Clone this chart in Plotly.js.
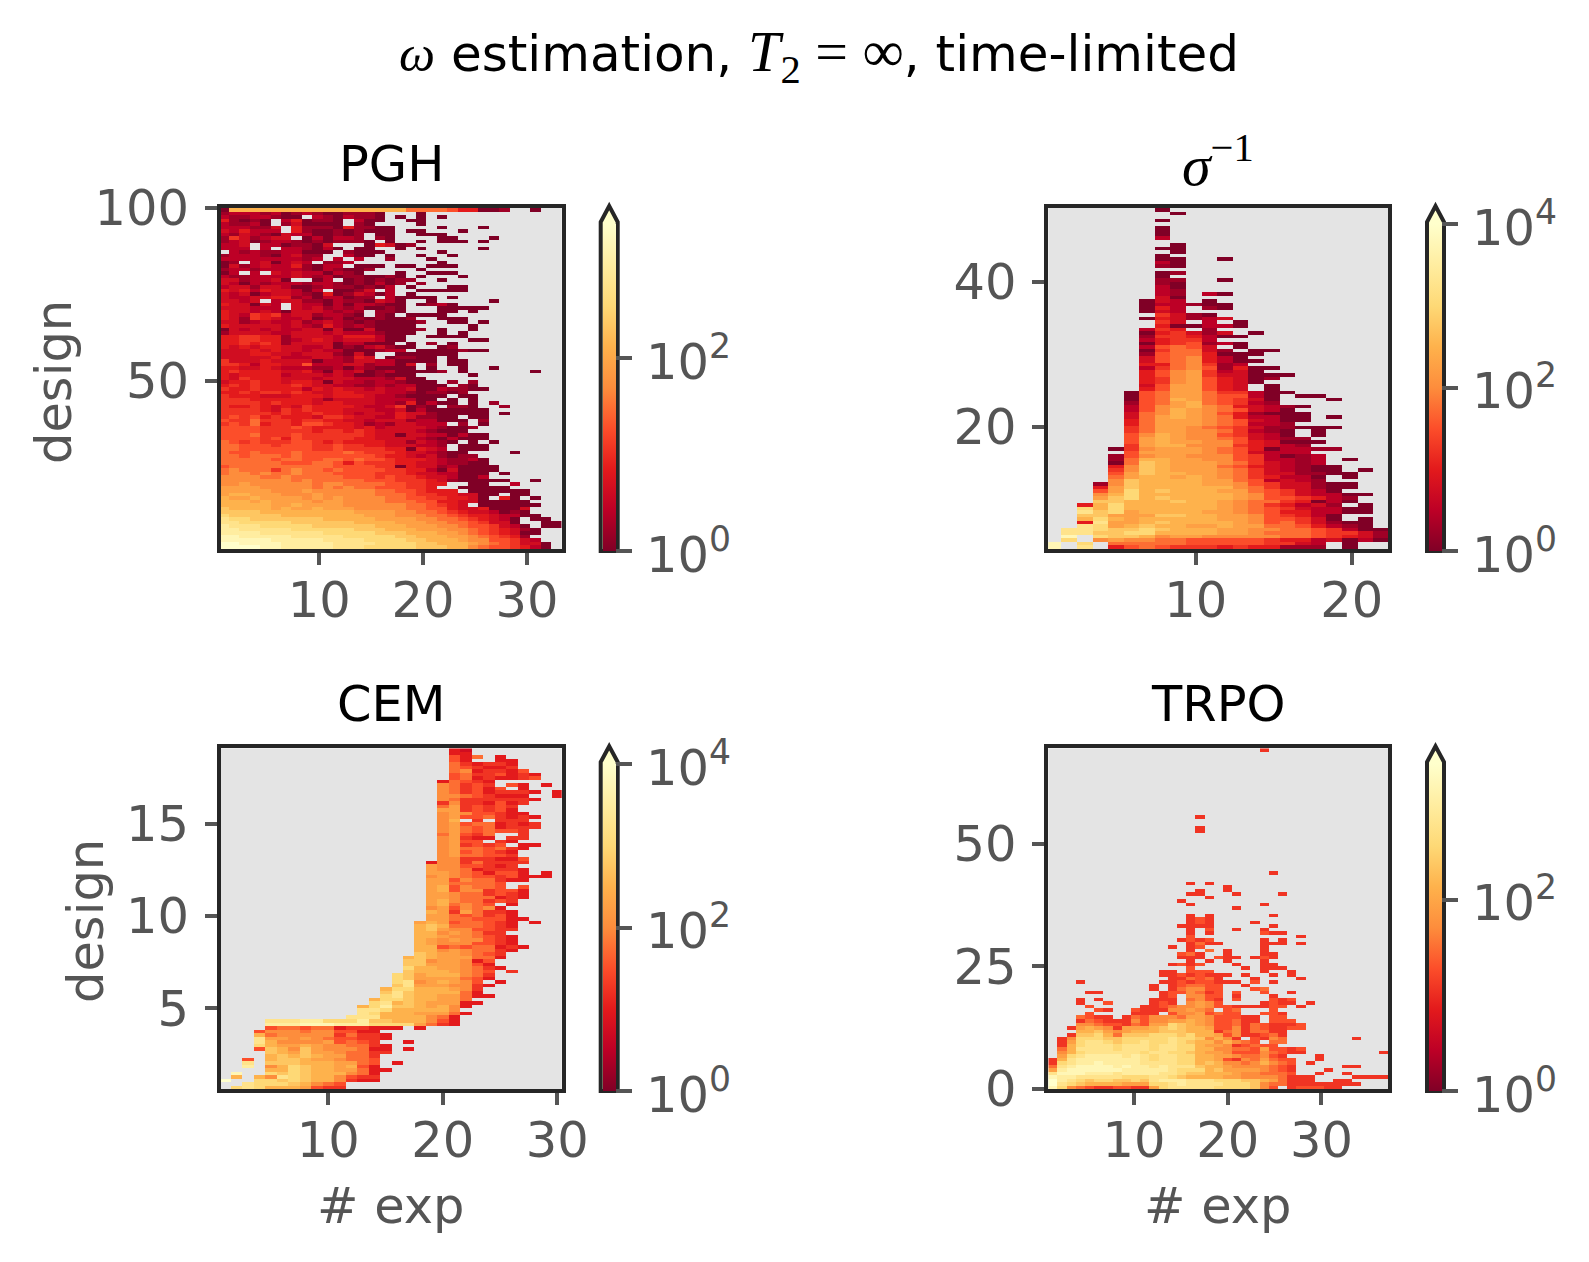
<!DOCTYPE html>
<html>
<head>
<meta charset="utf-8">
<script src="https://cdn.plot.ly/plotly-3.0.1.min.js"></script>
<style>
  html, body { margin: 0; padding: 0; background: #fff; }
  #chart { width: 1589px; height: 1262px; }
</style>
</head>
<body>
<div id="chart"></div>
<script>
// Cell values, one string per row, top row first.
// Each character is a base-17 level (0 = lowest colour, g = highest), '.' = no data.
// "19:875" means 19 empty cells and then the levels.
const pghRows = [
  "0aaaaaaaaaaaaaaaaa7777644001..0","1222120121001110...0","21122100.2102110.0.0.0","41010.240110.200..00",
  "21120.130000.10....0","222113.4111041100....0...0","324222.4100101000.00...0","21321032200101.00..000",
  "1531233.020221.10....00...0","123012210101110.0..0.000.0","223.2201103...04301","222.2.221020.00..0.0.....0",
  ".2121122000.1000.....0","1222102311..200.0..0..0","2222222212.2.2..1...0","01.230232.112........0",
  "031232241022.000.00.000","122122221021001....0","02.2.323220210...0..000","211222232120110010.0...0",
  "3312230..02.0101011..0","320212221221010201.1","23313320012110102.0...00","4342433202.0013.2..00000",
  "32302332104013202.0","322334412022011.20000.0","3323.2331102110320..0.....0","433032.32202022100.0120",
  "333222.32312120010...00000","43323203332121.110...00.0","43254523312210.10.0000","4315432230120101001..000",
  "33123223123210100001..00.0","4333332321421210000.....0","03232322330300300001.0..0","1333322333232221000..0.0",
  "445544133332444200..0000","445544123432333200......00","44545413333022000.0.1.0","4343443322301023100..01",
  "333434332322000122.0000100","333443323331030..000000","333334222332143.01100.0","533343333022133220000.00",
  "5542443362223312203.1.00","4433432221120210000.0..0..0","4544443342032301200001.0......0","4344442333232001000.....0",
  "43544433323332221300","344544344303221221000.1.1","4545444543322112122000.10","54454444243433232230021100",
  "445455454334433322101101","5444333444344432210000.00","555444444313333222200.0.0","55554544434433322140200.0.1",
  "544543435444432235010.110..1","55554354544433322302000000","55555454454432332433100000.0","56564544435543322431100.00",
  "655755545544332333122000.1","5657455466544312133222.1.0","6666555654444342333321001","666655555455454333321000",
  "66675556555555433033220200","66665646555554433332102000","76565556654544443313210.0.0","7766656665565544333221.000",
  "7766666665565555440432.000","766766676666765554332100....0","7767776766666665443231011","77777677667767665444321120",
  "77777766677646555443321100","677777777776666550433120000","787775787767666655442030000","78878778777666655543322000.0",
  "88887787777766656554332002","8888888787777766655543100000..0","8898888887887777665544..00..2","999988888787877666554..00000",
  "99999888988888877665444.000000","9aa999888988888777655443300.00","a99a9999898988887766554430.40.0","aaa9a9999899888877766443300000",
  "aaaaa99a9999888888776543.000000","baaaa9a99a99988888776643340003","bbbbaaaaaaaaa99998877654332010","cbbbbbaaaaaaaa99988877654432200",
  "dccbbbbbbbaaaaa99998877654320.00","ddcccccbbbbbbaaaa999887765330..00","edddcccccbbbbbbaaa999887665320.00","eedddddccccccbbbaaa999887654310",
  "eeeeddddddcccccbbbaaa9987654300","ffeeeeedddddcccccbbaaa99876541","fffffeeeeeddddccccbbaaa98866532","ggffffeeeeeddddccccbbaaa98765330",
  "ggggffeeeeedddcccccbbbaa87665420."
];

const sigmaRows = [
  "7:0","8:0","","7:0","","7:0","7:0","7:0","7:2","","8:0","7:00","8:0","7:0","7:00..0","7:20","7:10","",
  "7:01","7:0","7:11..0","7:10","7:20","7:21","7:21.20","7:30","6:032.0","6:022100","6:042.10","6:032",
  "7:5310","6:043123","7:53.2.0","7:400220","6:254.1","6:045313.0","6:1554200","6:24552","6:0456120","6:26763.0",
  "6:057731.00","6:16774000","6:3678420","6:36784200","6:4478512","6:257861400","6:46895230","6:4689533000","6:458964301","6:45896430",
  "6:3699643.0","6:4699643.0","5:06799755200","5:0679976620.00","5:067a976530...0","5:1679a76521","5:2689a8743210","5:268a9876320","5:378a98641000","5:379a98742200.0",
  "5:479998763200","5:47999876221","5:57998765311000","5:57998875210.0","5:68a98865320.0","5:69a988763211","5:69a9988643000","5:59aa88854321",
  "4:058999876402211","5:699998763222","4:16899888652012","4:17aa9988652212.0","4:07ba9998753212","4:48ba99976432100","4:58ba99987532100.0","4:69baa99875331100",
  "4:79aa9a98754220.0","4:8baaaa99762321","3:18baaaa9986533100","3:49baaaaaa87533100","3:69cabaaa99765320","3:8acaaaaaa986532200","3:9bcabaaaa98665421","3:bbaaabaa987754020",
  "2:4acaaaaaa98754231.0","2:cacaaaaaa9876532200","2:dbc9aaaa99876442200","2:bb999bbaa99865420","2:aca9aaaaa99866530.0","2:4d99abaaaa986753100","2:dc9abaa99a997764210",".ddcbbcbaaa99887765200",
  ".ddbbccaaaa99877765531",".f.cbba899888887765431",".c.8988776666654423020","f.c.77777666665532.0","f.d.46765554544111.0"
];

const cemRows = [
  "20:43","20:44","20:647.4","20:64..44","20:754554","20:765445","20:7845546","20:67556454","20:67454456","19:47654",
  "19:87565.64.4","19:875646.4","19:875645554.4","19:88765444..4","19:875555554","19:58554645","19:7956565","19:9956564","19:89866544","19:896675454",
  "19:8a.5.555","19:896774545","19:897674555","19:89767665","19:79657..5","19:89544.55","19:8966.54","19:895656.44","19:89776754","19:8967654",
  "19:8977665","19:88555446","18:488575555","18:98866545","18:988745554","18:998764664.4","18:89876656444","18:996877544","18:9977776","18:9a68776.6",
  "18:9a6885664","18:998775654","18:998777454","18:9a877565","18:9a7876.4","18:8968784","18:a9597554","18:99767564","18:997766644","17:9a9677654.4",
  "17:aba777654","17:ab9886655","17:aa898755","17:aa9887654","17:a98988654","17:a98886654","17:aa67677454","17:aa8987754","17:ba998765","16:aba999774",
  "16:bb899846","16:bb999864","16:caa998754","16:baaa9876.5","15:cb9aaa875","15:cb9999764","15:cd89a986.4","15:bd9998854","14:accaaa985","14:bdbaaaa74",
  "14:cdbaa99744","13:accbaa997","13:cdaba99944","12:acebba9a84","12:ddcaaaaa8","12:dcaaa99974","11:dddaaaa874","4:dddeecccebbaaa864","4:eeefffeeecccc9754","4:677677455444.4",
  "3:68887886644","3:a78888857554","3:d99898766554","3:da888896765..4","3:ca99a9887754","3:6ba8b9888744.4","4:ba9b9987755","4:ababa99775","2:6.abba998776","2:d.bbbaaa9976.4",
  "2:e.8acbaa9a64","4:aacbaa99744",".f..cbcbaaa874",".a.a8dcbaa8655","g..ccbcbaa8544","2:dcccba876",".cdcaaa9655"
];

const trpoRows = [
  "23:5","","","","","","","","","","","","","","","","","","",
  "16:5","","","16:5","16:5","","","","","","","","","","","",
  "24:5","","","15:5.5","19:5","16:5..5","15:55...5....5","17:5","14:5","15:5.......5","20:5","",
  "15:5.5......5","15:565","15:565....5","14:5555......5","15:5.6..5..5","15:5.5.....655","15:6...........5","14:5656.....5.5","15:5755....555.5",
  "13:5.56......5","15:5.7.5...5","14:675..5...55","14:555.655.565","15:5.5.5...5","13:5656...5..55","15:6.....5.555","12:55.666.....5..5",
  "12:55656555.5..5.5","13:557675...5....5","3:5........556566555.6.5","11:5.567766..5","11:5.578866...67","4:55......5668756.6..6..5","12:56.8866.5...5",
  "3:5.5.....555.7865.6...656","3:5..6....565.8986....5655.5","4:6.....5567889866555566.5","5:65..655588987.67...6","4:6....555.68896766..665",
  "3:7655.576888799866655.66","3:576555868899a9866755.666","3:8876657699cba986675765556","2:59a985999abcbaa96685765566","3:aab989aaabbbaaa57857755",
  "2:5bbca7bbbcccbcaa96855675",".58cccbbcccccdccb8a85.6587.......5",".59cddcbccdccdcbaa8a876.77",".5acdddcdddcddcca99856766",".7addddcdddcddccaa8877696656",
  ".8acddddddcddccba99866687655........5",".9cdeeeededcddccaa99877865...5","5adeeeeeeedcddccaa965879766..5","5cdeefeeeeddddccaba8878a876.5","7deffffefeededddbaa98888765.....55",
  "9effffffeeeeedcccab99998765...5","dfffeeedeeeeddcbbaaa9887776..5..5","feedddddcccddcbaaaa9988887555....5555","gedcbccbbcbdeeedddcccbba97555..55",
  "gdcbaaaa999ccdeddddcccb87755555555","fc8765566559cdddddccccb86.566655"
];

const panelTitles = ['PGH', '<i>σ</i><sup>−1</sup>', 'CEM', 'TRPO'];
const panelCols   = [33, 22, 30, 37];
const xStart      = [0.82, 0.88, 1.0, 1.34];
const xStep       = [1, 1, 1, 0.98];
const xRanges     = [[0.55, 33.34], [0.545, 22.32], [0.63, 30.38], [0.85, 37.1]];
const yRanges     = [[1.45, 100], [3.1, 50.17], [0.62, 19.1], [0, 69.5]];
const xTicks      = [[10, 20, 30], [10, 20], [10, 20, 30], [10, 20, 30]];
const yTicks      = [[50, 100], [20, 40], [5, 10, 15], [0, 25, 50]];
const decades     = [3.39, 4, 4, 3.42];   // log10 of the top of each colour bar
const barTicks    = [[0, 2], [0, 2, 4], [0, 2, 4], [0, 2]];

// YlOrRd reversed, dark red at the bottom
const colorStops = ['#800026', '#bd0026', '#e31a1c', '#fc4e2a', '#fd8d3c', '#feb24c', '#fed976', '#ffeda0', '#ffffcc'];

const W = 1589, H = 1262;
const FONT = 'DejaVu Sans';
const SIZE = 49.5;
const BAR_LEN = 327;
const GREY = '#555555';
const FRAME = '#262626';

// pixel boxes of the plot areas: [left, right, top, bottom]
const boxes = [
  [221, 561.7, 208, 549],
  [1048.3, 1388, 208, 549],
  [221, 561.7, 748.3, 1089],
  [1048.3, 1388, 748.3, 1089],
];
const px = v => v / W;
const py = v => 1 - v / H;
const mathSpan = (text, size) => `<span style="font-family:'Liberation Serif';font-size:${size}px">${text}</span>`;

function parseRow(row, cols, top) {
  let body = row;
  const cut = row.indexOf(':');
  if (cut >= 0) body = '.'.repeat(Number(row.slice(0, cut))) + row.slice(cut + 1);
  const out = [];
  for (let c = 0; c < cols; c++) {
    const ch = body[c];
    out.push(ch === undefined || ch === '.' ? null : parseInt(ch, 17) / 16 * top);
  }
  return out;
}

const colorscale = colorStops.map((col, i) => [i / (colorStops.length - 1), col]);
const allRows = [pghRows, sigmaRows, cemRows, trpoRows];

const traces = [];
const layout = {
  width: W, height: H,
  margin: { l: 0, r: 0, t: 0, b: 0, autoexpand: false },
  paper_bgcolor: '#ffffff',
  plot_bgcolor: '#e4e4e4',
  font: { family: FONT, size: SIZE, color: GREY },
  showlegend: false,
  title: {
    text: mathSpan('<i>ω</i>', 51) + ' estimation, ' + mathSpan('<i>T</i><sub>2</sub> = ∞', 58) + ', time-limited',
    x: 819 / W, xanchor: 'center', xref: 'paper',
    y: py(53), yanchor: 'middle', yref: 'paper',
    font: { family: FONT, size: 50, color: '#000000' },
  },
  annotations: [],
  shapes: [],
};

allRows.forEach((rows, p) => {
  const box = boxes[p];
  const suffix = p === 0 ? '' : String(p + 1);
  const [y0, y1] = yRanges[p];
  const dy = (y1 - y0) / rows.length;
  const z = rows.map(r => parseRow(r, panelCols[p], decades[p])).reverse();
  const barBottom = box[3] + 2;

  traces.push({
    type: 'heatmap',
    z: z,
    x0: xStart[p], dx: xStep[p],
    y0: y0 + dy / 2, dy: dy,
    xaxis: 'x' + suffix, yaxis: 'y' + suffix,
    colorscale: colorscale,
    zmin: 0, zmax: decades[p],
    hoverongaps: false,
    colorbar: {
      thicknessmode: 'pixels', thickness: 13,
      lenmode: 'pixels', len: BAR_LEN,
      x: px(box[1] + 41), xanchor: 'left', xpad: 0,
      y: py(barBottom), yanchor: 'bottom', ypad: 0,
      outlinewidth: 0,
      ticks: 'outside', ticklen: 16, tickwidth: 4, tickcolor: GREY,
      tickvals: barTicks[p],
      showticklabels: false,
    },
  });

  const axisBase = {
    showgrid: false, zeroline: false,
    showline: true, mirror: true, linecolor: FRAME, linewidth: 4,
    ticks: 'outside', ticklen: 12, tickwidth: 4, tickcolor: GREY,
    tickfont: { family: FONT, size: SIZE, color: GREY },
  };
  layout['xaxis' + suffix] = Object.assign({}, axisBase, {
    domain: [px(box[0]), px(box[1])], anchor: 'y' + suffix,
    range: xRanges[p], tickmode: 'array', tickvals: xTicks[p],
    ticklabelstandoff: -7,
  });
  layout['yaxis' + suffix] = Object.assign({}, axisBase, {
    domain: [py(box[3]), py(box[2])], anchor: 'x' + suffix,
    range: yRanges[p], tickmode: 'array', tickvals: yTicks[p],
    ticklabelstandoff: 6,
  });

  // subplot title
  layout.annotations.push({
    text: panelTitles[p],
    xref: 'paper', yref: 'paper', showarrow: false,
    x: px((box[0] + box[1]) / 2), y: py(box[2] - (p === 1 ? 47 : 44)),
    xanchor: 'center', yanchor: 'middle',
    font: { family: p === 1 ? 'Liberation Serif' : FONT, size: p === 1 ? 58 : SIZE, color: '#000000' },
  });

  // colour bar tick labels, placed by hand so the power of ten sits like mathtext
  barTicks[p].forEach(v => {
    layout.annotations.push({
      text: '10<sup>' + v + '</sup>',
      xref: 'paper', yref: 'paper', showarrow: false,
      x: px(box[1] + 82), xanchor: 'left',
      y: py(barBottom - BAR_LEN * v / decades[p]), yanchor: 'middle', yshift: 0,
      font: { family: FONT, size: SIZE, color: GREY },
    });
  });

  // matplotlib-style extend arrow and outline round the colour bar
  const cbL = box[1] + 41 - 2, cbR = box[1] + 41 + 13 + 2;
  const shoulder = box[3] - BAR_LEN, tip = box[2] - 2;
  layout.shapes.push({
    type: 'path', xref: 'paper', yref: 'paper', layer: 'above',
    path: `M ${px(cbL)},${py(box[3] + 2)} L ${px(cbL)},${py(shoulder)} L ${px((cbL + cbR) / 2)},${py(tip)} ` +
          `L ${px(cbR)},${py(shoulder)} L ${px(cbR)},${py(box[3] + 2)} Z`,
    fillcolor: colorStops[colorStops.length - 1],
    line: { color: FRAME, width: 4 },
  });
});

// axis labels
const labels = [
  ['design', 54, 382, -90], ['design', 86, 921, -90],
  ['# exp', 391, 1206, 0], ['# exp', 1218, 1206, 0],
];
labels.forEach(([text, x, y, angle]) => {
  layout.annotations.push({
    text: text, xref: 'paper', yref: 'paper', showarrow: false,
    x: px(x), y: py(y), xanchor: 'center', yanchor: 'middle', textangle: angle,
    font: { family: FONT, size: SIZE, color: GREY },
  });
});

Plotly.newPlot('chart', traces, layout, { displayModeBar: false, responsive: false });
</script>
</body>
</html>
